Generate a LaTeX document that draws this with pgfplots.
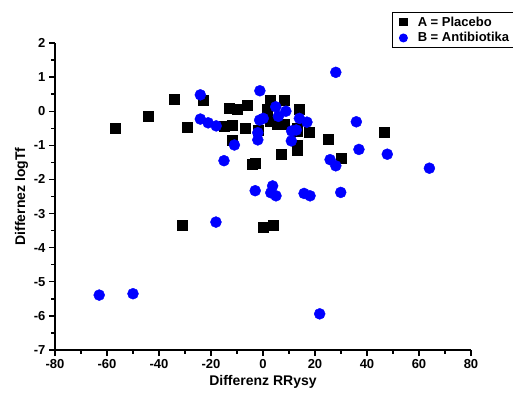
\documentclass[border=0pt]{standalone}
\usepackage{pgfplots}
\pgfplotsset{compat=1.18}
\usepackage{fontspec}
\setmainfont{Liberation Sans}
\definecolor{pblue}{RGB}{0,0,255}
\begin{document}
\begin{tikzpicture}[x=1pt,y=1pt]
\begin{axis}[
  at={(0,0)}, anchor=south west,
  scale only axis, width=416pt, height=307pt,
  xmin=-80, xmax=80, ymin=-7, ymax=2,
  axis x line*=bottom, axis y line*=left,
  axis line style={-, line width=1.6pt},
  xtick={-80,-60,...,80},
  xticklabels={-80,-60,-40,-20,0,20,40,60,80},
  ytick={-7,-6,...,2},
  yticklabels={-7,-6,-5,-4,-3,-2,-1,0,1,2},
  minor x tick num=1, minor y tick num=1,
  tick align=outside,
  major tick length=6pt, minor tick length=3.5pt,
  every tick/.style={black, line width=1.4pt},
  ticklabel style={font=\fontsize{13}{15}\selectfont\bfseries},
  xlabel={Differenz RRysy}, ylabel={Differnez logTf},
  label style={font=\fontsize{14}{16}\selectfont\bfseries},
  xlabel style={yshift=0pt},
  ylabel style={yshift=-1pt},
  legend style={at={(axis description cs:0.81,1.101)}, anchor=north west,
    draw=black, line width=1.2pt, font=\fontsize{13}{15.5}\selectfont\bfseries,
    inner xsep=7pt, inner ysep=2pt, row sep=1pt, fill=white,
    /tikz/every odd column/.append style={column sep=8.5pt}},
  legend cell align=left,
  legend image post style={scale=0.7},
  clip=false,
]
\addplot[only marks, mark=square*, mark size=5pt, black, mark options={fill=black, draw=black}] coordinates {
(-57,-0.49) (-44,-0.14) (-34.2,0.36) (-29.2,-0.46) (-23.1,0.33) (-13.1,0.08) (-10.1,0.06) (-6.2,0.18)
(-15,-0.43) (-12,-0.40) (-7,-0.51) (-12,-0.84) (-4.1,-1.56) (-3,-1.51) (-2,-0.57)
(2.8,0.33) (8,0.31) (1.5,0.05) (1.8,-0.11) (2.7,-0.28) (5.6,-0.37) (8.2,-0.37) (14,0.05)
(17.8,-0.62) (13,-0.5) (13,-0.6) (13,-1.01) (13,-1.14) (6.9,-1.26) (25,-0.81) (46.8,-0.62)
(29.9,-1.37) (0,-3.39) (4,-3.34) (-31,-3.35)
};
\addlegendentry{A = Placebo}
\addplot[only marks, mark=*, mark size=5.5pt, pblue, mark options={fill=pblue, draw=pblue}] coordinates {
(-24.1,0.48) (-24.1,-0.23) (-21.1,-0.34) (-18,-0.43) (-11,-0.99) (-15,-1.45) (-3,-2.33)
(-1.2,0.6) (-1.3,-0.26) (0.1,-0.21) (-2,-0.63) (-2,-0.84) (4.9,0.13) (8.8,0.0) (5.9,-0.15)
(14,-0.21) (16.9,-0.32) (11,-0.58) (12.8,-0.55) (10.9,-0.87) (28,1.14) (35.9,-0.31)
(36.9,-1.12) (47.8,-1.26) (25.8,-1.42) (28,-1.6) (64,-1.67) (3.7,-2.19) (3,-2.39) (5,-2.48)
(15.8,-2.41) (18.1,-2.48) (29.9,-2.38) (-18.1,-3.25) (-63,-5.39) (-50,-5.35) (21.8,-5.94)
};
\addlegendentry{B = Antibiotika}
\end{axis}
\pgfresetboundingbox
\useasboundingbox (-55,-47) rectangle (458,350);
\end{tikzpicture}
\end{document}
